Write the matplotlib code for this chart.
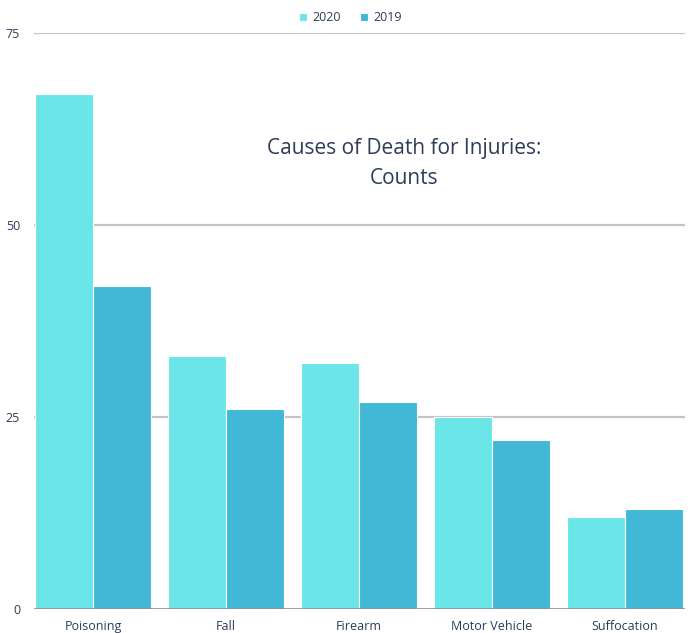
import matplotlib
matplotlib.use("Agg")
import matplotlib.pyplot as plt
import numpy as np

categories = ["Poisoning", "Fall", "Firearm", "Motor Vehicle", "Suffocation"]
values_2020 = [67, 33, 32, 25, 12]
values_2019 = [42, 26, 27, 22, 13]
yticks = [0, 25, 50, 75]

c2020 = "#6ae5e8"
c2019 = "#41b8d5"
text_color = "#2e3c5a"

plt.rcParams['font.family'] = ['Open Sans', 'DejaVu Sans']

W, H = 694, 633
fig = plt.figure(figsize=(W/100, H/100), dpi=100)
ax = fig.add_axes([34/W, (H-609)/H, (685-34)/W, (609-33)/H])

x = np.arange(len(categories))
w = 0.437
ax.bar(x - w/2, values_2020, w, color=c2020, edgecolor="white", linewidth=0.8, label="2020", zorder=3)
ax.bar(x + w/2, values_2019, w, color=c2019, edgecolor="white", linewidth=0.8, label="2019", zorder=3)

ax.set_xlim(-0.445, 4.452)
ax.set_ylim(0, 75)
ax.set_yticks(yticks)
ax.set_yticklabels([str(t) for t in yticks], color=text_color, fontsize=9)
for t in yticks[1:]:
    ax.axhline(t, color="#c0c4cc", linewidth=1.6, zorder=1)
ax.axhline(0, color="#8a8f99", linewidth=1.2, zorder=4)
ax.set_xticks(x)
ax.set_xticklabels(categories, color=text_color, fontsize=9)
ax.tick_params(axis="both", length=0, pad=8)
ax.tick_params(axis="y", pad=10)
for s in ax.spines.values():
    s.set_visible(False)

ax.text(0.568, 0.774, "Causes of Death for Injuries:\nCounts", transform=ax.transAxes,
        ha="center", va="center", fontsize=15, color=text_color, linespacing=1.55,
        fontweight="normal", family=['Open Sans', 'DejaVu Sans'])

leg = fig.legend(loc="upper center", bbox_to_anchor=(0.505, 1.0), ncol=2, frameon=False,
                 fontsize=9, handlelength=0.6, handleheight=0.6, handletextpad=0.4,
                 columnspacing=1.6, labelcolor=text_color)

fig.savefig("out.png", dpi=100)
